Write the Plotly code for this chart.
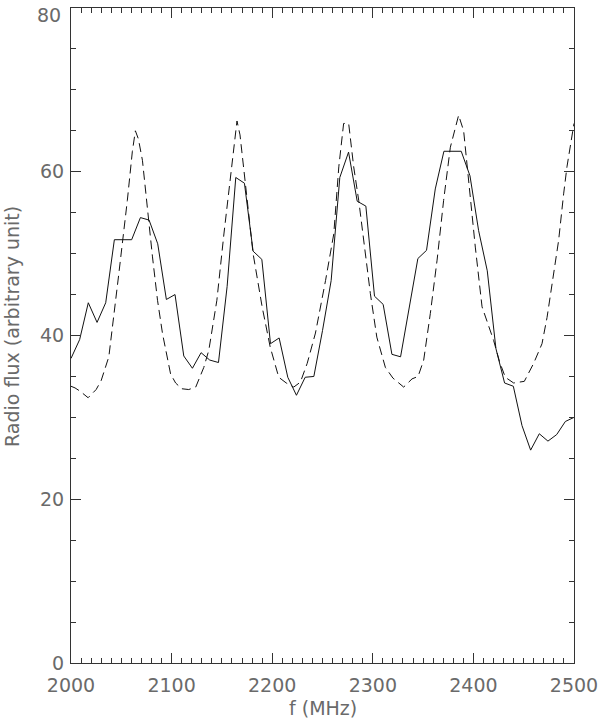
import plotly.graph_objects as go

# Observed spectrum (solid)
freq_obs = [2000.0, 2008.6, 2017.2, 2025.9, 2034.5, 2043.1, 2051.7, 2060.3, 2069.0, 2077.6,
            2086.2, 2094.8, 2103.4, 2112.1, 2120.7, 2129.3, 2137.9, 2146.6, 2155.2, 2163.8,
            2172.4, 2181.0, 2189.7, 2198.3, 2206.9, 2215.5, 2224.1, 2232.8, 2241.4, 2250.0,
            2258.6, 2267.2, 2275.9, 2284.5, 2293.1, 2301.7, 2310.3, 2319.0, 2327.6, 2336.2,
            2344.8, 2353.4, 2362.1, 2370.7, 2379.3, 2387.9, 2396.6, 2405.2, 2413.8, 2422.4,
            2431.0, 2439.7, 2448.3, 2456.9, 2465.5, 2474.1, 2482.8, 2491.4, 2500.0]
flux_obs = [37.2, 39.5, 44.0, 41.6, 44.0, 51.7, 51.7, 51.7, 54.4, 54.1,
            51.2, 44.4, 45.0, 37.5, 36.0, 37.9, 37.0, 36.7, 46.0, 59.3,
            58.6, 50.3, 49.3, 39.0, 39.7, 34.9, 32.7, 34.9, 35.0, 40.6,
            46.7, 59.3, 62.4, 56.4, 55.8, 44.8, 43.8, 37.7, 37.4, 43.5,
            49.4, 50.4, 57.9, 62.5, 62.5, 62.5, 59.5, 52.8, 47.9, 38.4,
            34.2, 33.8, 29.0, 26.0, 28.0, 27.1, 27.9, 29.5, 30.0]

# Model spectrum (dashed)
freq_model = [2000, 2004, 2009, 2017, 2025, 2030, 2037.6, 2042.5, 2047.5, 2056,
              2061, 2064, 2067, 2071, 2074, 2081, 2086, 2091, 2099, 2104,
              2110, 2117, 2124, 2132, 2137, 2145, 2152, 2157, 2162, 2165,
              2168, 2172, 2176, 2181, 2190, 2198, 2206.5, 2214, 2221.4, 2228,
              2234.8, 2243, 2253, 2261.2, 2266.2, 2271, 2276, 2281, 2286, 2291,
              2297.6, 2304, 2312.5, 2320, 2326.9, 2330.7, 2339, 2345, 2350.6, 2357.2,
              2363.9, 2370.4, 2377.1, 2385.3, 2390.3, 2395.3, 2401.9, 2408.6, 2414, 2420.1,
              2426, 2431.7, 2440, 2450.6, 2459.9, 2468.2, 2473.2, 2478.1, 2484.7, 2489.7,
              2493, 2500]
flux_model = [33.8, 33.6, 33.2, 32.4, 33.4, 34.5, 37.4, 42.2, 47.5, 56.5,
              62.5, 65.0, 64.0, 61.4, 57.7, 49.6, 44.3, 40.2, 35.3, 34.2,
              33.5, 33.4, 33.7, 36.1, 38.2, 44.3, 52.4, 57.7, 63.5, 66.2,
              64.5, 60.0, 55.0, 50.0, 43.5, 38.6, 34.9, 34.2, 33.7, 34.3,
              36.6, 40.3, 46.7, 52.4, 60.6, 65.9, 65.9, 60.6, 56.5, 51.6,
              45.1, 39.8, 36.1, 34.8, 34.1, 33.7, 34.7, 35.0, 37.0, 42.7,
              49.2, 56.5, 63.0, 66.9, 65.0, 58.6, 50.8, 43.5, 41.5, 39.4,
              36.8, 34.9, 34.2, 34.4, 36.6, 39.0, 42.2, 46.3, 51.6, 57.3,
              60.6, 65.9]

x_ticks = [2000, 2100, 2200, 2300, 2400, 2500]
y_ticks = [0, 20, 40, 60, 80]
x_title = "f (MHz)"
y_title = "Radio flux (arbitrary unit)"

text_font = dict(family="DejaVu Sans", size=19, color="#6a6a6a")
axcol = "#333333"

L, R, T, B = 71, 26, 8, 62
W, H = 600, 725
pw, ph = W - L - R, H - T - B

fig = go.Figure()
fig.add_trace(go.Scatter(x=freq_obs, y=flux_obs, mode="lines",
                         line=dict(color="#111111", width=1), showlegend=False))
fig.add_trace(go.Scatter(x=freq_model, y=flux_model, mode="lines",
                         line=dict(color="#111111", width=1, dash="9px,5px"), showlegend=False))

fig.update_layout(
    width=W, height=H,
    margin=dict(l=L, r=R, t=T, b=B),
    paper_bgcolor="white", plot_bgcolor="white",
    font=text_font,
)
common = dict(
    ticks="inside", ticklen=10, tickwidth=1, tickcolor=axcol,
    showline=True, linecolor=axcol, linewidth=1, mirror="allticks",
    showgrid=False, zeroline=False, tickfont=text_font,
    automargin=False, ticklabeloverflow="allow",
)
fig.update_xaxes(
    range=[2000, 2500], tickvals=x_ticks, ticktext=[str(v) for v in x_ticks],
    minor=dict(dtick=10, ticks="inside", ticklen=5, tickwidth=1, tickcolor=axcol, showgrid=False),
    ticklabelstandoff=5, **common,
)
# top label of the y axis is drawn as an annotation so it is not clipped at the page edge
y_ticktext = [str(v) if v != y_ticks[-1] else "" for v in y_ticks]
fig.update_yaxes(
    range=[0, 80], tickvals=y_ticks, ticktext=y_ticktext,
    minor=dict(dtick=5, ticks="inside", ticklen=5, tickwidth=1, tickcolor=axcol, showgrid=False),
    ticklabelstandoff=2, **common,
)
fig.add_annotation(text=str(y_ticks[-1]), xref="paper", yref="y",
                   x=(63 - L) / pw, y=y_ticks[-1], xanchor="right", yanchor="top",
                   yshift=6, showarrow=False, font=text_font)

fig.add_annotation(text=x_title, xref="paper", yref="paper",
                   x=0.5, y=(H - B - 708) / ph, xanchor="center", yanchor="middle",
                   showarrow=False, font=text_font)
fig.add_annotation(text=y_title, xref="paper", yref="paper",
                   x=(12 - L) / pw, y=(H - B - 327) / ph, xanchor="center", yanchor="middle",
                   textangle=-90, showarrow=False, font=text_font)

fig.write_html("out.html", config={"displayModeBar": False},
               post_script="document.body.style.margin='0px';document.body.style.overflow='hidden';")
